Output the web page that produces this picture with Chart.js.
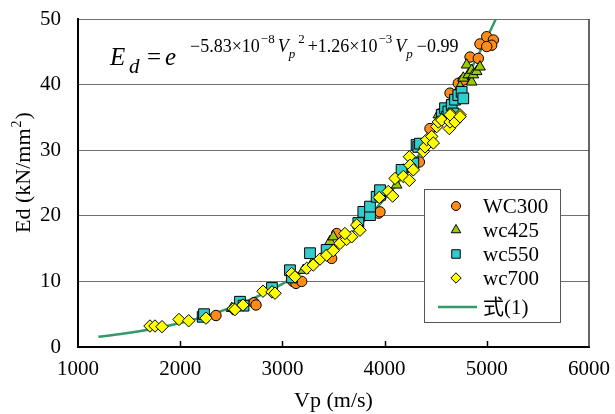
<!DOCTYPE html>
<html>
<head>
<meta charset="utf-8">
<script src="https://cdn.jsdelivr.net/npm/chart.js@4.4.0/dist/chart.umd.min.js"></script>
<style>
html, body { margin: 0; padding: 0; background: #fff; }
</style>
</head>
<body>
<canvas id="chart" width="615" height="414"></canvas>
<script>
// 測定データ（Vp m/s, Ed kN/mm2）
const wc300Vp = [2350, 2722, 2742, 3104, 3133, 3189, 3482, 3531, 3940, 3955, 4340, 4444, 4640, 4721, 4770, 4836, 4917, 4933, 4999, 5064, 5048, 4999];
const wc300Ed = [4.8, 6.75, 6.4, 10.0, 9.7, 10.0, 13.5, 17.3, 20.4, 20.6, 28.2, 33.3, 38.7, 40.2, 40.7, 44.2, 44.0, 46.2, 47.3, 46.8, 46.0, 45.8];

const wc425Vp = [2504, 3205, 3300, 3466, 3498, 3828, 4118, 4183, 4526, 4738, 4770, 4803, 4819, 4852, 4852, 4868, 4901, 4933];
const wc425Ed = [5.9, 11.7, 13.0, 16.1, 16.8, 20.8, 24.7, 27.0, 35.4, 39.7, 41.0, 43.0, 41.5, 42.2, 40.4, 41.5, 42.0, 42.7];

const wc550Vp = [2220, 2233, 2585, 2620, 2898, 3074, 3094, 3270, 3433, 3743, 3792, 3857, 3857, 3922, 3955, 3955, 4166, 4281, 4313, 4330, 4346, 4559, 4591, 4608, 4624, 4657, 4673, 4689, 4721, 4754, 4770];
const wc550Ed = [4.6, 5.0, 6.9, 6.3, 9.0, 11.7, 10.6, 14.3, 14.8, 18.9, 20.6, 20.1, 21.4, 22.9, 23.2, 23.9, 27.0, 28.0, 30.8, 30.5, 31.0, 35.4, 36.4, 35.1, 35.9, 36.9, 35.6, 37.7, 38.4, 38.9, 37.9];

const wc700Vp = [1704, 1753, 1822, 1988, 2083, 2252, 2517, 2536, 2614, 2810, 2898, 2928, 3091, 3123, 3238, 3302, 3368, 3433, 3498, 3564, 3629, 3678, 3612, 3727, 3759, 3948, 4036, 4079, 4102, 4183, 4242, 4242, 4249, 4281, 4379, 4395, 4412, 4461, 4477, 4510, 4526, 4559, 4633, 4640, 4657, 4689, 4738, 4640, 4738];
const wc700Ed = [3.2, 3.2, 3.1, 4.2, 4.0, 4.4, 5.8, 5.7, 6.4, 8.5, 8.4, 8.2, 11.2, 10.7, 12.0, 12.5, 13.4, 14.0, 14.7, 15.8, 16.4, 16.8, 17.3, 18.6, 17.8, 22.8, 23.7, 23.0, 25.7, 26.0, 25.4, 29.0, 27.7, 27.0, 29.8, 30.5, 31.6, 32.1, 31.1, 33.6, 34.3, 34.6, 33.3, 34.3, 35.4, 34.3, 35.4, 35.4, 35.1];

// 式(1)の曲線（図から読んだ値）
const fitVp = [1200, 1400, 1600, 1800, 2000, 2200, 2400, 2600, 2800, 3000, 3200, 3400, 3600, 3800, 4000, 4200, 4400, 4600, 4800, 5000, 5100];
const fitEd = [1.55, 1.93, 2.40, 2.97, 3.66, 4.48, 5.46, 6.63, 8.01, 9.63, 11.53, 13.74, 16.29, 19.22, 22.58, 26.41, 30.73, 35.60, 41.05, 47.11, 50.38];

const xTicks = [1000, 2000, 3000, 4000, 5000, 6000];
const yTicks = [0, 10, 20, 30, 40, 50];

const seriesNames = ["WC300", "wc425", "wc550", "wc700", "式(1)"];
const seriesColors = ["#FF8C1A", "#99CC00", "#33CCCC", "#FFFF00", "#339966"];
const seriesShapes = ["circle", "triangle", "rect", "rectRot", "line"];
const markerRadius = [5.2, 6.2, 7.6, 6.2];
const legendRadius = [4.5, 5.5, 6, 5.2];

const SERIF = "'Liberation Serif', 'Times New Roman', 'Noto Sans CJK JP', serif";

function toPoints(xs, ys) {
    return xs.map(function (v, i) { return { x: v, y: ys[i] }; });
}

function markerSet(i, xs, ys, order) {
    return {
        label: seriesNames[i],
        data: toPoints(xs, ys),
        pointStyle: seriesShapes[i],
        backgroundColor: seriesColors[i],
        borderColor: "#000",
        borderWidth: 1,
        pointRadius: markerRadius[i],
        showLine: false,
        order: order
    };
}

// x軸の内向き目盛、右枠、縦軸タイトル
const framePlugin = {
    id: "frame",
    afterDraw(chart) {
        const ctx = chart.ctx;
        const area = chart.chartArea;
        const xs = chart.scales.x;
        ctx.save();
        ctx.strokeStyle = "#000";
        ctx.lineWidth = 1.5;
        xs.ticks.forEach(function (t) {
            if (t.value <= xs.min || t.value >= xs.max) return;
            const px = Math.round(xs.getPixelForValue(t.value)) + 0.5;
            ctx.beginPath();
            ctx.moveTo(px, area.bottom);
            ctx.lineTo(px, area.bottom - 6);
            ctx.stroke();
        });
        ctx.strokeStyle = "#333";
        ctx.lineWidth = 1.5;
        ctx.beginPath();
        ctx.moveTo(area.right, area.top);
        ctx.lineTo(area.right, area.bottom);
        ctx.stroke();

        // 縦軸タイトル Ed (kN/mm²)
        ctx.translate(30, 233);
        ctx.rotate(-Math.PI / 2);
        ctx.fillStyle = "#000";
        ctx.textBaseline = "alphabetic";
        let x = 0;
        ctx.font = "22px " + SERIF;
        ctx.fillText("Ed (kN/mm", x, 0);
        x += ctx.measureText("Ed (kN/mm").width;
        ctx.font = "14px " + SERIF;
        ctx.fillText("2", x + 1, -9);
        x += ctx.measureText("2").width + 2;
        ctx.font = "22px " + SERIF;
        ctx.fillText(")", x, 0);
        ctx.restore();
    }
};

// 凡例（グラフ内）
const legendPlugin = {
    id: "innerLegend",
    afterDraw(chart) {
        const ctx = chart.ctx;
        const left = 424, top = 189, w = 136, h = 133;
        ctx.save();
        ctx.fillStyle = "#fff";
        ctx.fillRect(left, top, w, h);
        ctx.strokeStyle = "#555";
        ctx.lineWidth = 1;
        ctx.strokeRect(left + 0.5, top + 0.5, w, h);
        const rows = [206, 230, 254, 278, 307];
        ctx.font = "21px " + SERIF;
        ctx.textBaseline = "middle";
        seriesNames.forEach(function (name, i) {
            const y = rows[i];
            if (seriesShapes[i] === "line") {
                ctx.strokeStyle = seriesColors[i];
                ctx.lineWidth = 2.5;
                ctx.beginPath();
                ctx.moveTo(438, y);
                ctx.lineTo(477, y);
                ctx.stroke();
            } else {
                ctx.fillStyle = seriesColors[i];
                ctx.strokeStyle = "#000";
                ctx.lineWidth = 1;
                Chart.helpers.drawPoint(ctx, {
                    pointStyle: seriesShapes[i],
                    radius: legendRadius[i],
                    rotation: 0,
                    borderWidth: 1
                }, 456, y);
            }
            ctx.fillStyle = "#000";
            ctx.fillText(name, 483, y + 1);
        });
        ctx.restore();
    }
};

// 式の表示
const equationPlugin = {
    id: "equation",
    afterDraw(chart) {
        const ctx = chart.ctx;
        const head = [
            { t: "E", f: "italic 25px", x: 110, y: 65 },
            { t: "d", f: "italic 21px", x: 129, y: 73 },
            { t: "=", f: "25px", x: 147, y: 65 },
            { t: "e", f: "italic 25px", x: 165, y: 65 }
        ];
        const parts = [
            { t: "\u22125.83\u00d710", f: "18px", y: 52, gap: 1 },
            { t: "\u22128", f: "13px", y: 43, gap: 3 },
            { t: "V", f: "italic 18px", y: 52, gap: 0 },
            { t: "p", f: "italic 13px", y: 58, gap: 3 },
            { t: "2", f: "13px", y: 43, gap: 3 },
            { t: "+1.26\u00d710", f: "18px", y: 52, gap: 1 },
            { t: "\u22123", f: "13px", y: 43, gap: 3 },
            { t: "V", f: "italic 18px", y: 52, gap: 0 },
            { t: "p", f: "italic 13px", y: 58, gap: 4 },
            { t: "\u22120.99", f: "18px", y: 52, gap: 0 }
        ];
        ctx.save();
        ctx.fillStyle = "#000";
        ctx.textBaseline = "alphabetic";
        ctx.textAlign = "left";
        head.forEach(function (p) {
            ctx.font = p.f + " " + SERIF;
            ctx.fillText(p.t, p.x, p.y);
        });
        let x = 190;
        parts.forEach(function (p) {
            ctx.font = p.f + " " + SERIF;
            ctx.fillText(p.t, x, p.y);
            x += ctx.measureText(p.t).width + p.gap;
        });
        ctx.restore();
    }
};

new Chart(document.getElementById("chart"), {
    type: "scatter",
    data: {
        datasets: [
            markerSet(0, wc300Vp, wc300Ed, 4),
            markerSet(1, wc425Vp, wc425Ed, 3),
            markerSet(2, wc550Vp, wc550Ed, 2),
            markerSet(3, wc700Vp, wc700Ed, 1),
            {
                label: seriesNames[4],
                type: "line",
                data: toPoints(fitVp, fitEd),
                borderColor: seriesColors[4],
                borderWidth: 2.5,
                pointRadius: 0,
                fill: false,
                cubicInterpolationMode: "monotone",
                order: 5
            }
        ]
    },
    options: {
        responsive: false,
        animation: false,
        layout: { padding: { top: 19, right: 26, left: 0, bottom: 0 } },
        plugins: {
            legend: { display: false },
            tooltip: { enabled: false }
        },
        scales: {
            x: {
                type: "linear",
                min: xTicks[0],
                max: xTicks[xTicks.length - 1],
                afterBuildTicks(scale) { scale.ticks = xTicks.map(function (v) { return { value: v }; }); },
                afterFit(scale) { scale.height = 67; scale.paddingLeft = 0; scale.paddingRight = 0; },
                ticks: {
                    color: "#000", font: { family: SERIF, size: 21 }, padding: 10, maxRotation: 0,
                    callback: function (v) { return String(v); }
                },
                grid: { display: false, drawTicks: false },
                border: { display: true, color: "#000", width: 2 },
                title: { display: true, text: "Vp (m/s)", color: "#000", font: { family: SERIF, size: 22 }, padding: { top: 0, bottom: 0 } }
            },
            y: {
                min: yTicks[0],
                max: yTicks[yTicks.length - 1],
                afterBuildTicks(scale) { scale.ticks = yTicks.map(function (v) { return { value: v }; }); },
                afterFit(scale) { scale.width = 78; scale.paddingTop = 0; scale.paddingBottom = 0; },
                ticks: {
                    color: "#000", font: { family: SERIF, size: 21 }, padding: 17,
                    callback: function (v) { return String(v); }
                },
                grid: { color: "#707070", lineWidth: 1, drawTicks: false },
                border: { display: true, color: "#000", width: 2 },
                title: { display: false }
            }
        }
    },
    plugins: [framePlugin, legendPlugin, equationPlugin]
});
</script>
</body>
</html>
